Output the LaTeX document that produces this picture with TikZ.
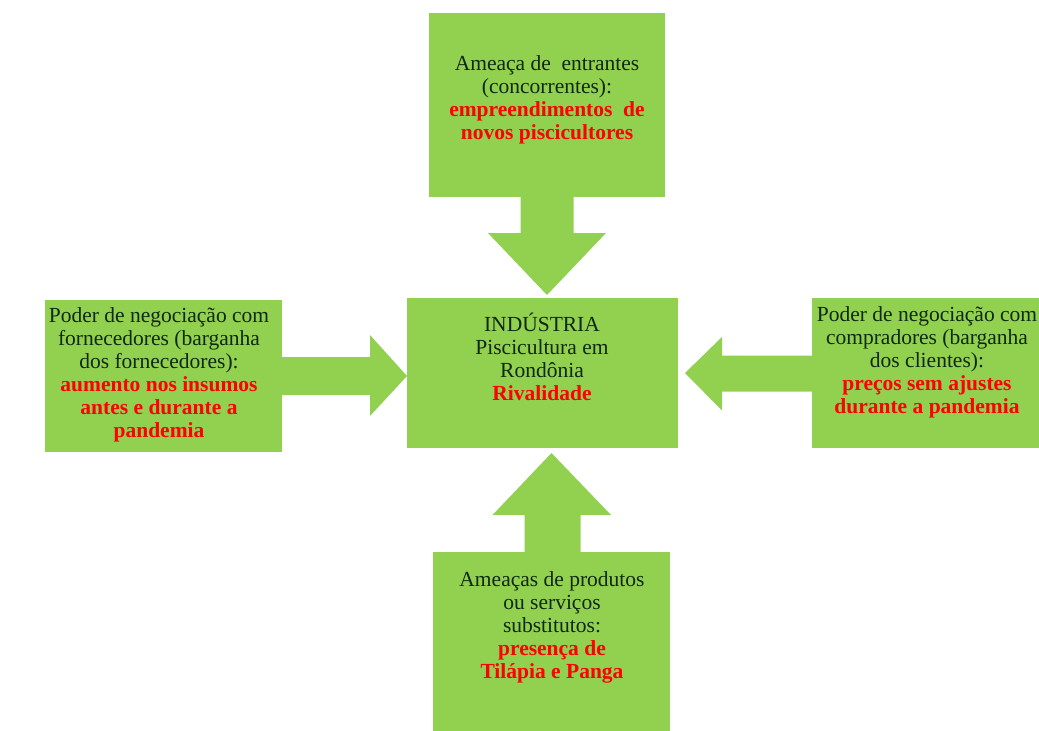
\documentclass[tikz,border=0pt]{standalone}
\usepackage{fontspec}
\setmainfont{Liberation Serif}[BoldFont={Liberation Serif Bold}]
\usetikzlibrary{calc}
\definecolor{boxgreen}{HTML}{92D050}
\definecolor{txtred}{HTML}{FF0000}
\definecolor{txtdark}{HTML}{102810}
\newcommand{\redbf}[1]{\textcolor{txtred}{\textbf{#1}}}
\begin{document}
\begin{tikzpicture}[x=1pt,y=-1pt,
  box/.style={fill=boxgreen, draw=none, inner sep=0pt, outer sep=0pt, anchor=north west},
  txt/.style={align=center, inner sep=0pt, text=txtdark, font=\fontsize{21.5}{23}\selectfont, anchor=north},
  arr/.style={fill=boxgreen, draw=none}]
\useasboundingbox[fill=white] (0,0) rectangle (1039,731);

% boxes
\node[box, minimum width=236pt, minimum height=184pt] (top) at (429,13) {};
\node[box, minimum width=271pt, minimum height=150pt] (center) at (407,298) {};
\node[box, minimum width=237pt, minimum height=152pt] (left) at (45,300) {};
\node[box, minimum width=227pt, minimum height=150pt] (right) at (812,298) {};
\node[box, minimum width=237pt, minimum height=179pt] (bottom) at (433,552) {};

% texts
\node[txt] (toptxt) at (547,55) {Ameaça de\ \ entrantes\\(concorrentes):\\\redbf{empreendimentos\ \ de}\\\redbf{novos piscicultores}};
\node[txt] (centertxt) at (542,313) {INDÚSTRIA\\Piscicultura em\\Rondônia\\\redbf{Rivalidade}};
\node[txt] (lefttxt) at (159,307) {Poder de negociação com\\fornecedores (barganha\\dos fornecedores):\\\redbf{aumento nos insumos}\\\redbf{antes e durante a}\\\redbf{pandemia}};
\node[txt] (righttxt) at (927,306) {Poder de negociação com\\compradores (barganha\\dos clientes):\\\redbf{preços sem ajustes}\\\redbf{durante a pandemia}};
\node[txt] (bottomtxt) at (552,571) {Ameaças de produtos\\ou serviços\\substitutos:\\\redbf{presença de}\\\redbf{Tilápia e Panga}};

% arrows (top -> center)
\coordinate (ta) at (top.south);
\coordinate (tt) at ($(center.north -| ta)+(0,-3)$);
\fill[arr] ($(ta)+(-26.5,-1)$) -- ++(0,37) -- ++(-32.5,0) -- (tt) -- ++(59,-62) -- ++(-32.5,0) -- ++(0,-37) -- cycle;

% bottom -> center
\coordinate (ba) at (bottom.north);
\coordinate (bt) at ($(center.south -| ba)+(0,5)$);
\fill[arr] ($(ba)+(-27,1)$) -- ++(0,-38) -- ++(-32,0) -- (bt) -- ++(59.5,62) -- ++(-30.5,0) -- ++(0,38) -- cycle;

% left -> center
\coordinate (la) at (left.east);
\coordinate (lt) at ($(center.west |- la)$);
\fill[arr] ($(la)+(-1,-19)$) -- ++(89,0) -- ++(0,-22) -- (lt) -- ++(-37,40) -- ++(0,-21) -- ++(-89,0) -- cycle;

% right -> center
\coordinate (ra) at (right.west);
\coordinate (rt) at ($(center.east |- ra)+(7,0)$);
\fill[arr] ($(ra)+(1,-17.5)$) -- ++(-91,0) -- ++(0,-18.5) -- (rt) -- ++(37,37.5) -- ++(0,-19) -- ++(91,0) -- cycle;
\end{tikzpicture}
\end{document}
